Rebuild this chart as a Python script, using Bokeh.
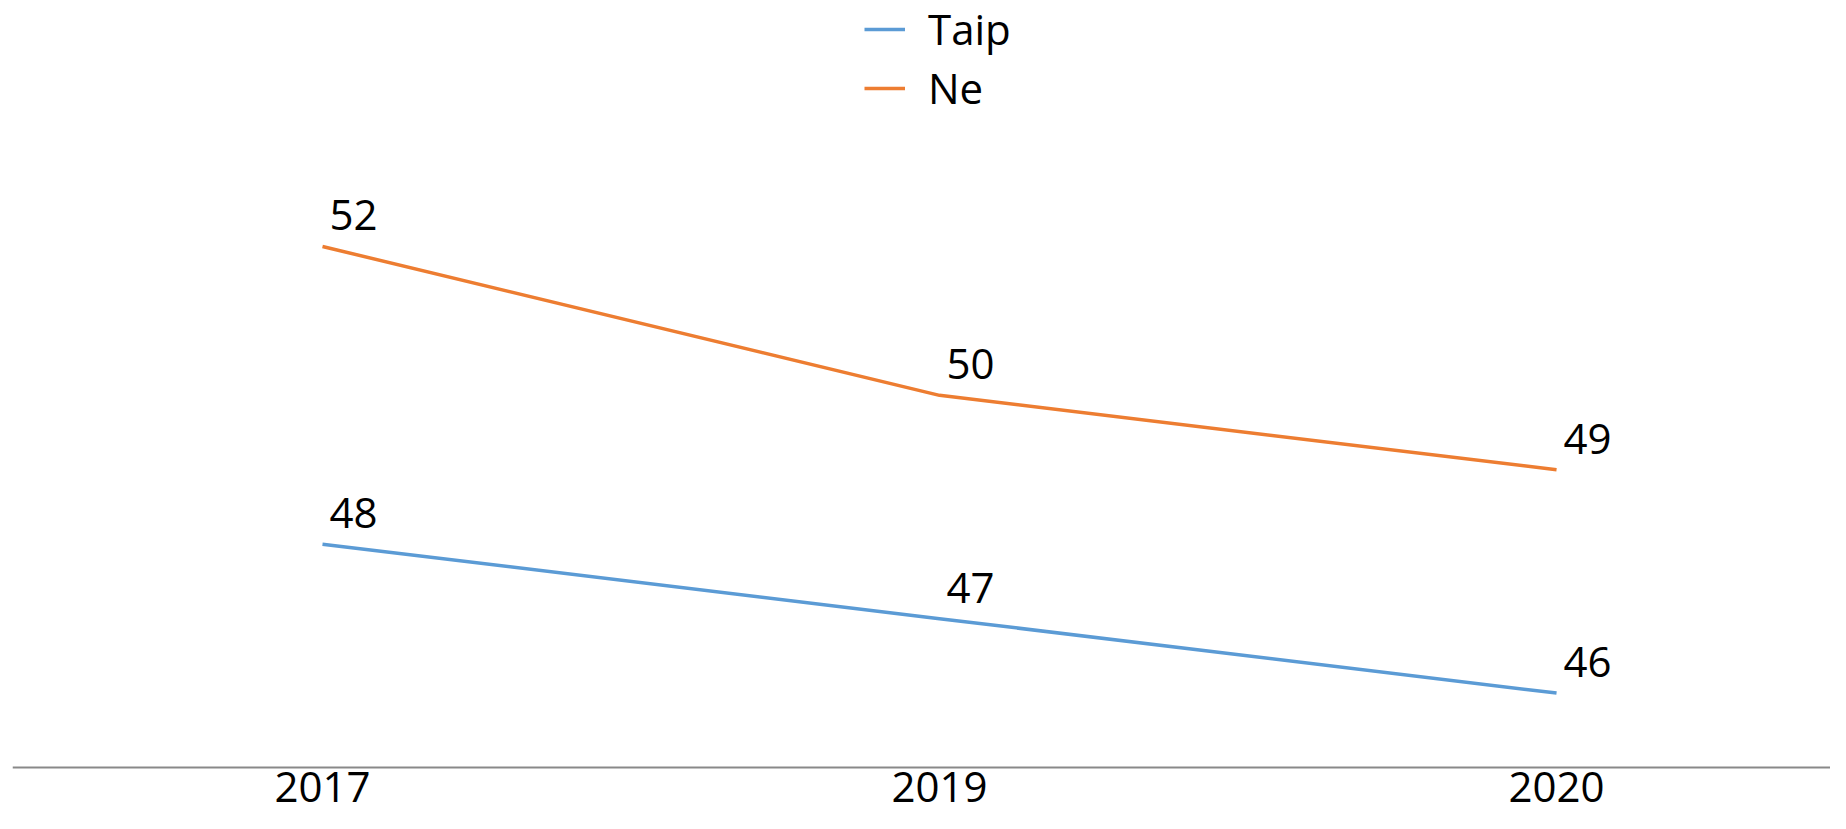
from bokeh.plotting import figure
from bokeh.models import Range1d, FixedTicker, Legend, LegendItem, ColumnDataSource
from bokeh.core.properties import value
from bokeh.embed import file_html
from bokeh.resources import INLINE

years = ["2017", "2019", "2020"]
taip = [48, 47, 46]
ne = [52, 50, 49]
series_names = ["Taip", "Ne"]
colors = ["#5B9BD5", "#ED7D31"]

FONT = "Open Sans"
xs = list(range(len(years)))

W, H = 1830, 813
p = figure(width=W, height=H, output_backend="svg", toolbar_location=None,
           x_range=Range1d(-0.5024, 2.444), y_range=Range1d(44.382, 55.305),
           min_border_left=12, min_border_right=0, min_border_top=0, min_border_bottom=0)
p.background_fill_color = "white"
p.border_fill_color = "white"
p.outline_line_color = None
p.xgrid.visible = False
p.ygrid.visible = False
p.yaxis.visible = False

renderers = []
for vals, col in zip([taip, ne], colors):
    src = ColumnDataSource(dict(x=xs, y=vals, lab=[str(v) for v in vals]))
    r = p.line("x", "y", source=src, line_color=col, line_width=3.5)
    renderers.append(r)
    p.text("x", "y", text="lab", source=src, text_font=value(FONT), text_font_size="42px",
           text_color="black", text_align="left", text_baseline="alphabetic",
           x_offset=7, y_offset=-31)

xa = p.xaxis[0]
xa.fixed_location = 45
xa.ticker = FixedTicker(ticks=xs)
xa.major_label_overrides = {i: y for i, y in enumerate(years)}
xa.major_label_text_font = FONT
xa.major_label_text_font_size = "42px"
xa.major_label_text_color = "black"
xa.major_label_standoff = 4
xa.major_tick_out = 0
xa.major_tick_in = 0
xa.minor_tick_out = 0
xa.minor_tick_in = 0
xa.axis_line_color = "#898989"
xa.axis_line_width = 2

legend_y = [756, 697]
for name, r, ly in zip(series_names, renderers, legend_y):
    lg = Legend(items=[LegendItem(label=name, renderers=[r])],
                location=(852, ly), orientation="vertical",
                label_text_font=FONT, label_text_font_size="42px", label_text_color="black",
                glyph_width=41, glyph_height=50, label_height=50, label_standoff=23,
                spacing=0, padding=0, margin=0, border_line_alpha=0, background_fill_alpha=0)
    p.add_layout(lg, "center")

open("out.html", "w").write(file_html(p, INLINE))
